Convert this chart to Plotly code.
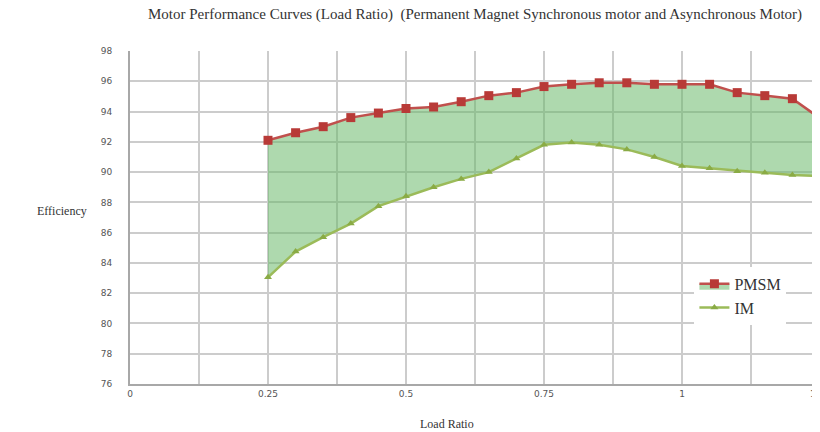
import plotly.graph_objects as go

# Load ratio 0.25 .. 1.25 step 0.05
load_ratio = [0.25, 0.30, 0.35, 0.40, 0.45, 0.50, 0.55, 0.60, 0.65, 0.70, 0.75,
              0.80, 0.85, 0.90, 0.95, 1.00, 1.05, 1.10, 1.15, 1.20, 1.25]
pmsm_eff = [92.1, 92.6, 93.0, 93.6, 93.9, 94.2, 94.3, 94.65, 95.05, 95.25, 95.65,
            95.8, 95.9, 95.9, 95.8, 95.8, 95.8, 95.25, 95.05, 94.85, 93.55]
im_eff = [83.05, 84.75, 85.7, 86.6, 87.75, 88.4, 89.0, 89.55, 90.0, 90.9, 91.8,
          91.95, 91.8, 91.5, 91.0, 90.4, 90.25, 90.05, 89.95, 89.8, 89.75]

x_tickvals = [0, 0.25, 0.5, 0.75, 1, 1.25]
x_ticktext = ["0", "0.25", "0.5", "0.75", "1", "1.25"]
y_tickvals = [76, 78, 80, 82, 84, 86, 88, 90, 92, 94, 96, 98]

SERIF = "Liberation Serif"
SANS = "DejaVu Sans"

fig = go.Figure()

fig.add_trace(go.Scatter(
    x=load_ratio, y=im_eff, name="IM", mode="lines+markers",
    line=dict(color="#9bbb59", width=2.5),
    marker=dict(symbol="triangle-up", size=7, color="#8aab45"),
    legendrank=2,
))
fig.add_trace(go.Scatter(
    x=load_ratio, y=pmsm_eff, name="PMSM", mode="lines+markers",
    line=dict(color="#c0504d", width=2.5),
    marker=dict(symbol="square", size=9, color="#b83a37"),
    fill="tonexty", fillcolor="rgba(100,182,100,0.52)",
    legendrank=1,
))

fig.update_xaxes(
    range=[0, 1.25], tickvals=x_tickvals, ticktext=x_ticktext,
    showgrid=True, gridcolor="#cccccc", gridwidth=2,
    minor=dict(dtick=0.125, tick0=0, showgrid=True, gridcolor="#cccccc", gridwidth=2),
    showline=True, linecolor="#a8a8a8", linewidth=2,
    zeroline=False, ticks="", automargin=False, ticklabeloverflow="allow",
    tickfont=dict(family=SANS, size=9, color="#555555"),
)
fig.update_yaxes(
    range=[76, 98], tickvals=y_tickvals,
    showgrid=True, gridcolor="#cccccc", gridwidth=2,
    showline=True, linecolor="#a8a8a8", linewidth=2,
    zeroline=False, ticks="", ticklabelstandoff=14, automargin=False,
    tickfont=dict(family=SANS, size=9, color="#555555"),
)

fig.add_annotation(
    text="Motor Performance Curves (Load Ratio)  (Permanent Magnet Synchronous motor and Asynchronous Motor)",
    xref="paper", yref="paper", x=0.5, y=1, yshift=37, showarrow=False,
    xanchor="center", yanchor="middle",
    font=dict(family=SERIF, size=15, color="#333333"),
)
fig.add_annotation(
    text="Efficiency", xref="paper", yref="paper", x=0, xshift=-68, y=0.52,
    showarrow=False, xanchor="center", yanchor="middle",
    font=dict(family=SERIF, size=12, color="#333333"),
)
fig.add_annotation(
    text="Load Ratio", xref="paper", yref="paper", x=0.46, y=0, yshift=-40,
    showarrow=False, xanchor="center", yanchor="middle",
    font=dict(family=SERIF, size=12, color="#333333"),
)

# page body has an 8px margin, so the plot area is offset to land where the reference has it
fig.update_layout(
    width=812, height=432,
    margin=dict(l=122, r=0, t=43, b=56),
    paper_bgcolor="white", plot_bgcolor="white",
    showlegend=True,
    legend=dict(
        x=0.818, y=0.352, xanchor="left", yanchor="top",
        bgcolor="white", borderwidth=0, traceorder="normal",
        font=dict(family=SERIF, size=16, color="#333333"),
        itemwidth=30, tracegroupgap=0,
    ),
)

fig.write_html("out.html")
